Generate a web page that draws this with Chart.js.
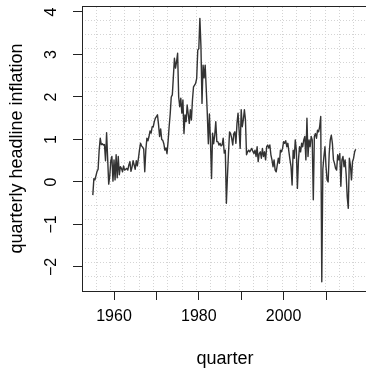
<!DOCTYPE html>
<html>
<head>
<meta charset="utf-8">
<script src="https://cdn.jsdelivr.net/npm/chart.js@4/dist/chart.umd.min.js"></script>
<style>
  html, body { margin: 0; padding: 0; overflow: hidden; background: #ffffff; }
  canvas { display: block; }
</style>
</head>
<body>
<canvas id="inflationChart" width="372" height="368"></canvas>
<script>
// Quarterly headline inflation, first quarter 1955, one value per quarter
const startYear = 1955;
const inflation = [
  -0.31, 0.08, 0.05, 0.15, 0.25, 0.3, 0.75, 1.03, 0.88, 0.9,
  0.87, 0.88, 0.5, 1.16, 0.55, -0.05, 0.15, 0.5, 0.6, 0.02,
  0.52, 0.05, 0.64, 0.1, 0.6, 0.17, 0.36, 0.32, 0.24, 0.38,
  0.28, 0.3, 0.32, 0.28, 0.4, 0.48, 0.25, 0.35, 0.5, 0.4,
  0.3, 0.5, 0.38, 0.55, 0.75, 0.91, 0.85, 0.82, 0.78, 0.24,
  0.75, 1.03, 0.97, 1.07, 1.2, 1.15, 1.3, 1.3, 1.42, 1.5,
  1.54, 1.58, 1.35, 1.07, 1.25, 1.0, 0.98, 0.9, 0.75, 0.8,
  0.67, 0.95, 1.3, 1.6, 2.0, 2.05, 2.48, 2.91, 2.68, 2.83,
  3.03, 2.0, 1.77, 1.97, 1.62, 1.93, 1.14, 1.58, 1.42, 1.81,
  1.6, 1.38, 1.7, 1.46, 1.93, 2.24, 2.28, 2.32, 2.44, 3.1,
  3.14, 3.85, 3.2, 1.85, 2.75, 2.45, 2.75, 2.2, 1.6, 0.9,
  1.6, 0.95, 0.08, 1.15, 0.9, 1.1, 1.42, 0.95, 0.95, 0.87,
  0.91, 0.85, 0.87, 1.03, 0.68, 0.75, -0.5, 0.13, 0.68, 1.18,
  1.14, 1.03, 0.87, 1.14, 1.18, 0.91, 1.38, 1.62, 1.22, 0.79,
  1.7, 1.3, 1.46, 1.7, 1.46, 0.64, 0.71, 0.75, 0.71, 0.75,
  0.79, 0.72, 0.67, 0.75, 0.6, 0.83, 0.48, 0.67, 0.71, 0.56,
  0.79, 0.6, 0.71, 0.52, 0.83, 0.87, 0.8, 0.87, 0.64, 0.52,
  0.36, 0.52, 0.28, 0.24, 0.4, 0.56, 0.44, 0.75, 0.71, 0.79,
  0.95, 0.91, 0.97, 0.83, 0.91, 0.71, 0.52, 0.36, -0.07, 0.75,
  0.56, 0.99, 0.75, -0.15, 0.52, 0.83, 0.71, 0.91, 0.83, 0.99,
  1.07, 0.52, 1.5, 0.6, 0.99, 0.83, 1.07, 0.99, -0.42, 1.07,
  1.14, 1.03, 1.22, 1.18, 1.3, 1.54, -2.35, 0.3, 0.6, 0.83,
  0.36, 0.05, 0.0, 0.67, 0.99, 1.1, 0.91, 0.52, 0.44, 0.32,
  0.28, 0.64, 0.52, 0.67, -0.1, 0.52, 0.6, 0.36, 0.52, 0.17,
  -0.35, -0.62, 0.56, 0.4, 0.05, 0.48, 0.56, 0.71, 0.77
];

// Axis ticks
const xTicks = [1960, 1970, 1980, 1990, 2000, 2010];
const xTickLabels = ['1960', '', '1980', '', '2000', ''];
const yTicks = [-2, -1, 0, 1, 2, 3, 4];

const points = inflation.map((v, i) => ({ x: startYear + i / 4, y: v }));

const axisColor = '#222222';
const gridColor = '#d4d4d4';
const fontFamily = "'Liberation Sans', Arial, sans-serif";

new Chart(document.getElementById('inflationChart').getContext('2d'), {
  type: 'line',
  data: {
    datasets: [{
      data: points,
      borderColor: '#333333',
      borderWidth: 1.4,
      borderJoinStyle: 'round',
      pointRadius: 0,
      tension: 0,
      fill: false
    }]
  },
  options: {
    responsive: false,
    animation: false,
    events: [],
    layout: { padding: { left: 0, top: 6, right: 4, bottom: 0 } },
    plugins: {
      legend: { display: false },
      tooltip: { enabled: false }
    },
    scales: {
      x: {
        type: 'linear',
        position: 'bottom',
        min: 1952.45,
        max: 2019.9,
        afterBuildTicks: (axis) => { axis.ticks = xTicks.map(v => ({ value: v })); },
        afterFit: (axis) => {
          axis.height = 77;
          axis.paddingLeft = 0;
          axis.paddingRight = 0;
        },
        ticks: {
          autoSkip: false,
          maxRotation: 0,
          padding: 7,
          color: '#000000',
          font: { family: fontFamily, size: 16 },
          callback: (value, index) => xTickLabels[index]
        },
        grid: { drawOnChartArea: false, drawTicks: true, tickLength: 9, tickColor: axisColor },
        border: { display: true, color: axisColor, width: 1 },
        title: {
          display: true,
          text: 'quarter',
          color: '#000000',
          font: { family: fontFamily, size: 18, lineHeight: 1 },
          padding: { top: 0, bottom: 0 }
        }
      },
      y: {
        type: 'linear',
        position: 'left',
        min: -2.565,
        max: 4.141,
        afterBuildTicks: (axis) => { axis.ticks = yTicks.map(v => ({ value: v })); },
        afterFit: (axis) => {
          axis.width = 82;
          axis.paddingTop = 0;
          axis.paddingBottom = 0;
        },
        ticks: {
          minRotation: 90,
          maxRotation: 90,
          crossAlign: 'center',
          padding: 12,
          color: '#000000',
          font: { family: fontFamily, size: 16 },
          callback: (value) => (value < 0 ? '\u2212' + Math.abs(value) : String(value))
        },
        grid: { drawOnChartArea: false, drawTicks: true, tickLength: 9, tickColor: axisColor },
        border: { display: true, color: axisColor, width: 1 },
        title: {
          display: true,
          text: 'quarterly headline inflation',
          color: '#000000',
          font: { family: fontFamily, size: 18 },
          padding: { top: 6, bottom: 0 }
        }
      },
      // light dotted grid splitting the panel into 20 x 20 cells
      gx: {
        type: 'linear',
        position: 'top',
        min: 0,
        max: 20,
        afterFit: (axis) => {
          axis.height = 0;
          axis.paddingLeft = 0;
          axis.paddingRight = 0;
        },
        ticks: { display: false, stepSize: 1 },
        grid: { color: gridColor, drawTicks: false, lineWidth: 1 },
        border: { display: true, color: axisColor, width: 1, dash: [1, 2] }
      },
      gy: {
        type: 'linear',
        position: 'right',
        min: 0,
        max: 20,
        afterFit: (axis) => {
          axis.width = 0;
          axis.paddingTop = 0;
          axis.paddingBottom = 0;
        },
        ticks: { display: false, stepSize: 1 },
        grid: { color: gridColor, drawTicks: false, lineWidth: 1 },
        border: { display: false, dash: [1, 2] }
      }
    }
  }
});
</script>
</body>
</html>
